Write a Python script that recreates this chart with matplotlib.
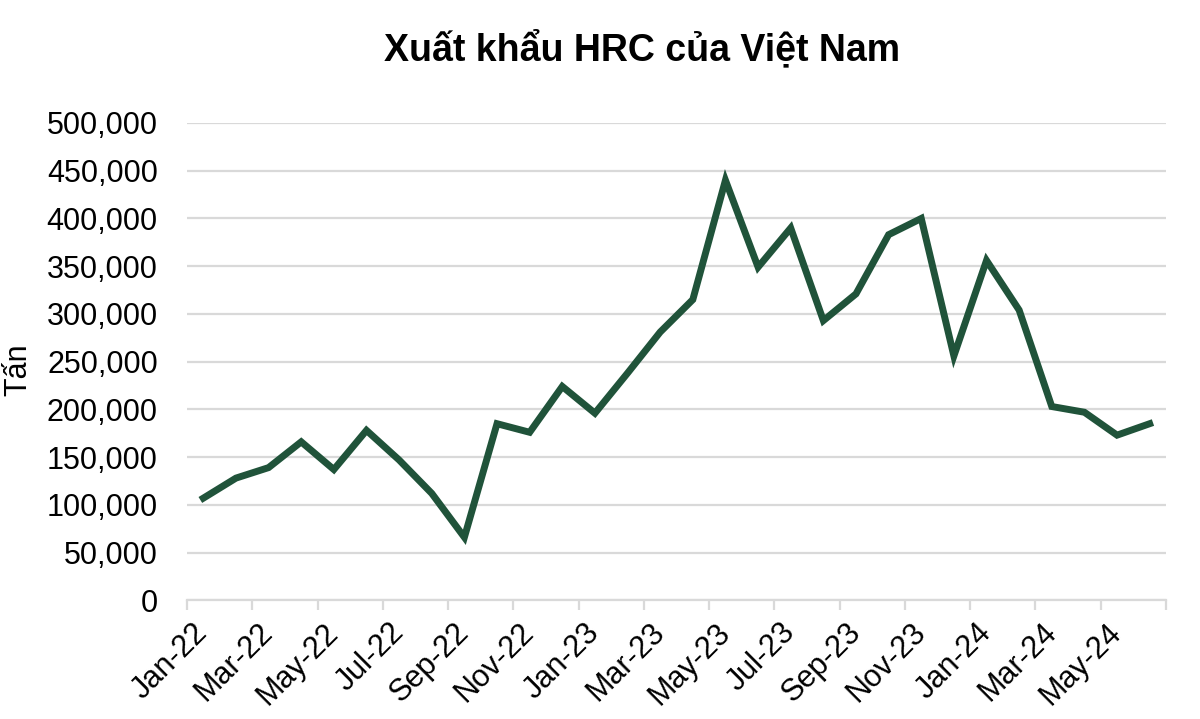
import matplotlib
matplotlib.use("Agg")
import matplotlib.pyplot as plt
from matplotlib.ticker import FuncFormatter, FixedLocator

months = ["Jan-22", "Feb-22", "Mar-22", "Apr-22", "May-22", "Jun-22", "Jul-22", "Aug-22",
          "Sep-22", "Oct-22", "Nov-22", "Dec-22", "Jan-23", "Feb-23", "Mar-23", "Apr-23",
          "May-23", "Jun-23", "Jul-23", "Aug-23", "Sep-23", "Oct-23", "Nov-23", "Dec-23",
          "Jan-24", "Feb-24", "Mar-24", "Apr-24", "May-24", "Jun-24"]
exports = [107000, 128000, 139000, 166000, 137000, 178000, 147000, 112000,
           66000, 185000, 176000, 224000, 196000, 238000, 281000, 315000,
           440000, 349000, 390000, 293000, 321000, 383000, 400000, 256000,
           356000, 304000, 203000, 197000, 173000, 185000]
yticks = [0, 50000, 100000, 150000, 200000, 250000, 300000, 350000, 400000, 450000, 500000]

title = "Xuất khẩu HRC của Việt Nam"
ylabel = "Tấn"

plt.rcParams['font.family'] = ['Liberation Sans', 'DejaVu Sans']

fig = plt.figure(figsize=(12, 7.19), dpi=100)
ax = fig.add_axes([187/1200, 1 - 600.3/719, (1166-187)/1200, (600.3-123)/719])

x = list(range(len(months)))
ax.plot(x, exports, color='#20533A', linewidth=5.0, solid_joinstyle='miter', zorder=3)

ax.set_ylim(0, 500000)
ax.set_xlim(-0.5, len(months) - 0.5)
ax.set_yticks(yticks)
ax.yaxis.set_major_formatter(FuncFormatter(lambda v, p: f"{int(v):,}"))
ax.grid(axis='y', color='#D9D9D9', linewidth=1.6, zorder=0)
ax.set_axisbelow(True)

for s in ['left', 'right', 'top']:
    ax.spines[s].set_visible(False)
ax.spines['bottom'].set_color('#D9D9D9')
ax.spines['bottom'].set_linewidth(1.6)

ax.tick_params(axis='y', length=0, pad=21, labelsize=22, colors='black')

major = x[::2]
ax.xaxis.set_major_locator(FixedLocator(major))
ax.set_xticklabels([months[i] for i in major], rotation=45, ha='right',
                   va='center', rotation_mode='anchor', fontsize=22)
ax.tick_params(axis='x', which='major', length=0, pad=20)
ax.xaxis.set_minor_locator(FixedLocator([i - 0.5 for i in range(0, len(months) + 1, 2)]))
ax.tick_params(axis='x', which='minor', length=7, width=1.6, color='#D9D9D9', direction='out')

fig.text(18/1200, 1 - 370/719, ylabel, rotation=90, ha='center', va='center', fontsize=22)
fig.text(642/1200, 1 - 49/719, title, ha='center', va='center', fontsize=27, fontweight='bold')

fig.savefig("out.png", dpi=100, facecolor='white')
